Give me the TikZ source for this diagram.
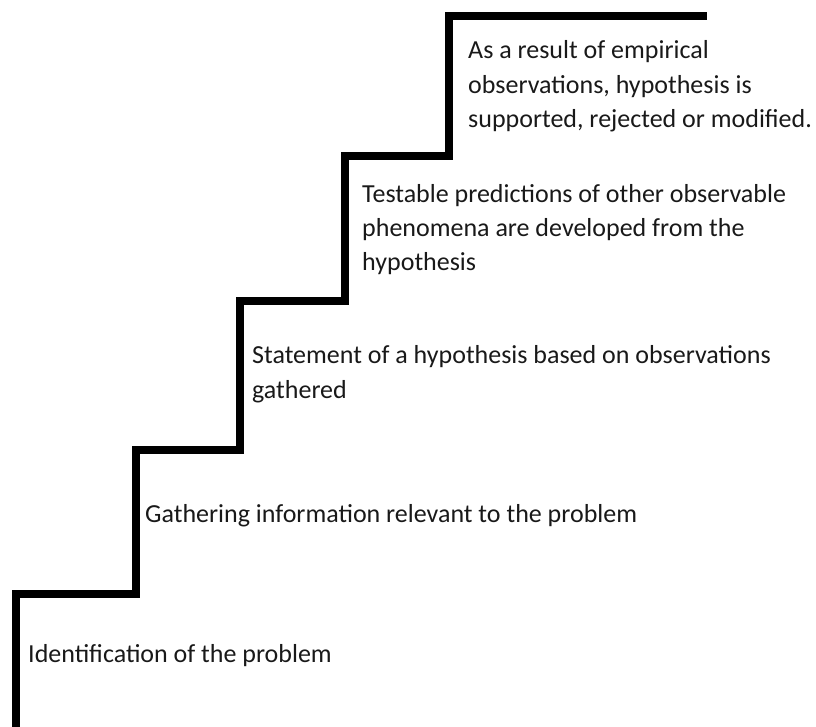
\documentclass[tikz,border=0pt]{standalone}
\usepackage{fontspec}
\setmainfont{Carlito}
\begin{document}
\begin{tikzpicture}[x=1pt,y=-1pt,
  stair/.style={line width=7.5pt,line join=miter,line cap=butt,draw=black},
  steplabel/.style={anchor=base west,inner sep=0pt,align=left,
    font=\fontsize{26}{34.5}\selectfont,text=black!90}]
  \useasboundingbox (0,0) rectangle (816,727);
  % corners of the staircase
  \coordinate (s0) at (16,727);
  \coordinate (s1) at (16,594);
  \coordinate (s2) at (136,594);
  \coordinate (s3) at (136,450);
  \coordinate (s4) at (240,450);
  \coordinate (s5) at (240,301);
  \coordinate (s6) at (345,301);
  \coordinate (s7) at (345,156);
  \coordinate (s8) at (449,156);
  \coordinate (s9) at (449,16);
  \coordinate (s10) at (707,16);
  \draw[stair] (s0) -- (s1) -- (s2) -- (s3) -- (s4) -- (s5) -- (s6)
    -- (s7) -- (s8) -- (s9) -- (s10);
  % one label per step; each is placed by the baseline of its last line
  \node[steplabel] (l1) at (28,662) {Identification of the problem};
  \node[steplabel] (l2) at (145,522) {Gathering information relevant to the problem};
  \node[steplabel] (l3) at (252,398) {Statement of a hypothesis based on observations\\gathered};
  \node[steplabel] (l4) at (362,271) {Testable predictions of other observable\\phenomena are developed from the\\hypothesis};
  \node[steplabel] (l5) at (468,128) {As a result of empirical\\observations, hypothesis is\\supported, rejected or modified.};
\end{tikzpicture}
\end{document}
